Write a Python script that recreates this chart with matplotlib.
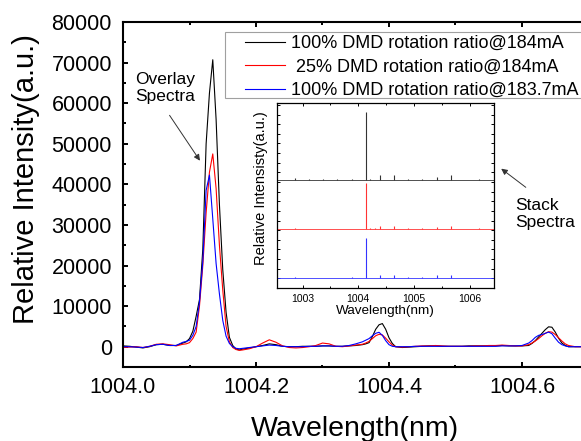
import matplotlib
matplotlib.use("Agg")
import matplotlib.pyplot as plt
from matplotlib.ticker import MultipleLocator, FormatStrFormatter
from matplotlib.patches import Rectangle

plt.rcParams['font.family'] = ['Liberation Sans', 'DejaVu Sans']

# overlay spectra (main axes), counts
wave = [1003.97, 1003.98, 1003.99, 1004.00, 1004.01, 1004.02, 1004.03, 1004.04, 1004.05, 1004.06,
        1004.07, 1004.08, 1004.085, 1004.09, 1004.095, 1004.100, 1004.105, 1004.110, 1004.115, 1004.120,
        1004.125, 1004.130, 1004.135, 1004.140, 1004.145, 1004.150, 1004.155, 1004.160, 1004.165, 1004.170,
        1004.175, 1004.180, 1004.19, 1004.20, 1004.21, 1004.22, 1004.23, 1004.24, 1004.25, 1004.26,
        1004.27, 1004.28, 1004.29, 1004.30, 1004.31, 1004.32, 1004.33, 1004.34, 1004.35, 1004.36,
        1004.365, 1004.37, 1004.375, 1004.38, 1004.385, 1004.39, 1004.395, 1004.40, 1004.405, 1004.41,
        1004.42, 1004.43, 1004.44, 1004.45, 1004.46, 1004.47, 1004.48, 1004.49, 1004.50, 1004.51,
        1004.52, 1004.53, 1004.54, 1004.55, 1004.56, 1004.57, 1004.58, 1004.59, 1004.60, 1004.61,
        1004.615, 1004.62, 1004.625, 1004.63, 1004.635, 1004.64, 1004.645, 1004.65, 1004.655, 1004.66,
        1004.665, 1004.67, 1004.68, 1004.69, 1004.70]

black_184 = [0, 0, 100, 200, 100, -100, -300, 0, 500, 600,
             300, 300, 600, 900, 1200, 2000, 3800, 7500, 11600, 24000,
             50000, 62500, 70700, 56000, 35000, 19000, 8500, 2300, 300, -600,
             -800, -600, -300, 0, 300, 700, 500, 100, 0, 0,
             100, 100, 100, 200, 200, 100, 100, 200, 300, 500,
             700, 1000, 2500, 4300, 5400, 5700, 4300, 2200, 800, 0,
             -200, -100, 0, 100, 200, 200, 100, 100, 100, 100,
             200, 200, 200, 200, 200, 300, 200, 200, 200, 300,
             800, 1500, 2400, 3300, 4200, 4900, 4800, 3600, 2100, 900,
             300, 0, 0, 0, 0]

red_184 = [-300, -300, -300, -200, -100, 0, -200, 100, 600, 700,
           500, 200, 400, 600, 700, 1000, 2000, 3600, 10000, 20000,
           33000, 43000, 47500, 39000, 25000, 14000, 5000, 1200, -200, -700,
           -900, -800, -500, 0, 900, 1700, 1100, 200, -200, -300,
           -200, 0, 300, 900, 700, 100, 0, 200, 400, 600,
           900, 1300, 2000, 2700, 3050, 2900, 2100, 1200, 400, 0,
           -100, 0, 100, 200, 200, 300, 200, 100, 100, 100,
           100, 200, 200, 300, 300, 400, 300, 200, 200, 500,
           900, 1400, 2000, 2700, 3300, 3700, 3600, 3000, 2200, 1400,
           700, 300, 0, 0, 0]

blue_1837 = [0, 100, 100, 0, 0, -100, -200, 100, 500, 600,
             300, 300, 700, 1100, 1300, 1600, 2800, 5000, 11000, 21000,
             38500, 42300, 31500, 20500, 13000, 6500, 2600, 800, 0, -400,
             -500, -400, -200, 0, 200, 400, 300, 100, 0, 0,
             0, 100, 100, 200, 200, 100, 100, 300, 700, 1200,
             1600, 2000, 2700, 3300, 3550, 2800, 1500, 500, 100, 0,
             0, 0, 100, 100, 100, 100, 100, 100, 100, 100,
             100, 100, 100, 100, 100, 200, 200, 200, 300, 900,
             1500, 2300, 2800, 3000, 3300, 3600, 3200, 2100, 1100, 500,
             200, 0, 0, 0, 0]

labels = ['100% DMD rotation ratio@184mA',
          ' 25% DMD rotation ratio@184mA',
          '100% DMD rotation ratio@183.7mA']

# stack spectra (inset): peak positions and heights, stacking offsets
inset_peaks = [1002.86, 1003.115, 1003.37, 1003.625, 1003.88, 1004.134, 1004.22, 1004.30,
               1004.389, 1004.644, 1004.899, 1005.154, 1005.409, 1005.664, 1005.919, 1006.174]
inset_black = [2500, 1000, 700, 700, 1200, 70700, 700, 200, 5700, 5000, 1000, 1000, 3000, 5000, 300, 1000]
inset_red = [1000, 300, 300, 300, 700, 47500, 1700, 1000, 3000, 3700, 1000, 1000, 2500, 3500, 300, 800]
inset_blue = [1500, 500, 500, 500, 1000, 42300, 400, 200, 3500, 3600, 1000, 1000, 3000, 3500, 300, 800]
offsets = [102000, 51000, 0]

W, H = 581, 441
fig = plt.figure(figsize=(W / 100, H / 100), dpi=100)


def fx(px):
    return px / W


def fy(py):
    return 1 - py / H


ax = fig.add_axes([fx(123), fy(367), (588.5 - 123) / W, (367 - 22) / H])
colors = ['black', 'red', 'blue']
for ys, c, lab in zip([black_184, red_184, blue_1837], colors, labels):
    ax.plot(wave, ys, color=c, lw=0.8, label=lab)

ax.set_xlim(1004.0, 1004.7)
ax.set_ylim(-5000, 80000)
ax.xaxis.set_major_locator(MultipleLocator(0.2))
ax.xaxis.set_minor_locator(MultipleLocator(0.1))
ax.xaxis.set_major_formatter(FormatStrFormatter('%.1f'))
ax.yaxis.set_major_locator(MultipleLocator(10000))
ax.yaxis.set_minor_locator(MultipleLocator(5000))
ax.tick_params(which='both', direction='in', top=True, right=True, width=1.4, labelsize=15.5)
ax.tick_params(which='major', length=3.6)
ax.tick_params(which='minor', length=1.8)
ax.tick_params(axis='y', pad=8)
ax.tick_params(axis='x', pad=7)
for s in ax.spines.values():
    s.set_linewidth(1.5)

fig.text(fx(26), fy(179), 'Relative Intensity(a.u.)', rotation=90, ha='center', va='center', fontsize=21)
fig.text(fx(355), fy(436), 'Wavelength(nm)', ha='center', va='baseline', fontsize=20.5)

# legend box
ax.add_patch(Rectangle((fx(225), fy(98)), fx(400), (98 - 32) / H, transform=fig.transFigure,
                       facecolor='white', edgecolor='#a0a0a0', lw=0.8, zorder=4, clip_on=False))
leg = ax.legend(loc='upper left', bbox_to_anchor=(fx(245), fy(35)), bbox_transform=fig.transFigure,
                frameon=False, fontsize=13, handlelength=2.2, handletextpad=0.35,
                labelspacing=0.36, borderpad=0, borderaxespad=0)
leg.set_zorder(5)

# inset
axi = fig.add_axes([fx(277), fy(288), (494 - 277) / W, (288 - 103) / H])
for hs, off, c in zip([inset_black, inset_red, inset_blue], offsets, ['#333333', '#ff3333', '#3333ff']):
    axi.axhline(off, color=c, lw=0.6)
    axi.vlines(inset_peaks, off, [off + h for h in hs], color=c, lw=0.8)
axi.set_xlim(1002.54, 1006.44)
axi.set_ylim(-10000, 182000)
axi.xaxis.set_major_locator(MultipleLocator(1))
axi.xaxis.set_minor_locator(MultipleLocator(0.5))
axi.yaxis.set_major_locator(MultipleLocator(10000))
axi.tick_params(which='both', direction='in', top=True, right=True, width=0.7, labelsize=7.5, pad=4)
axi.tick_params(which='major', length=2.2)
axi.tick_params(which='minor', length=1.5)
axi.set_yticklabels([])
for s in axi.spines.values():
    s.set_linewidth(0.9)
axi.set_xlabel('Wavelength(nm)', fontsize=9.7, labelpad=1)
fig.text(fx(261), fy(188), 'Relative Intensisty(a.u.)', rotation=90, ha='center', va='center', fontsize=10.5)

# annotations
fig.text(fx(135), fy(72), 'Overlay\nSpectra', ha='left', va='top', fontsize=12.5, linespacing=1.15)
fig.text(fx(515), fy(198), 'Stack\nSpectra', ha='left', va='top', fontsize=12.5, linespacing=1.15)
arrow = dict(arrowstyle='-|>', color='#333333', lw=0.7, mutation_scale=9)
ax.annotate('', xy=(fx(201.5), fy(163)), xytext=(fx(168), fy(113)),
            xycoords='figure fraction', textcoords='figure fraction', arrowprops=arrow)
ax.annotate('', xy=(fx(499), fy(167)), xytext=(fx(528), fy(189)),
            xycoords='figure fraction', textcoords='figure fraction', arrowprops=arrow)

fig.savefig('out.png', dpi=100)
